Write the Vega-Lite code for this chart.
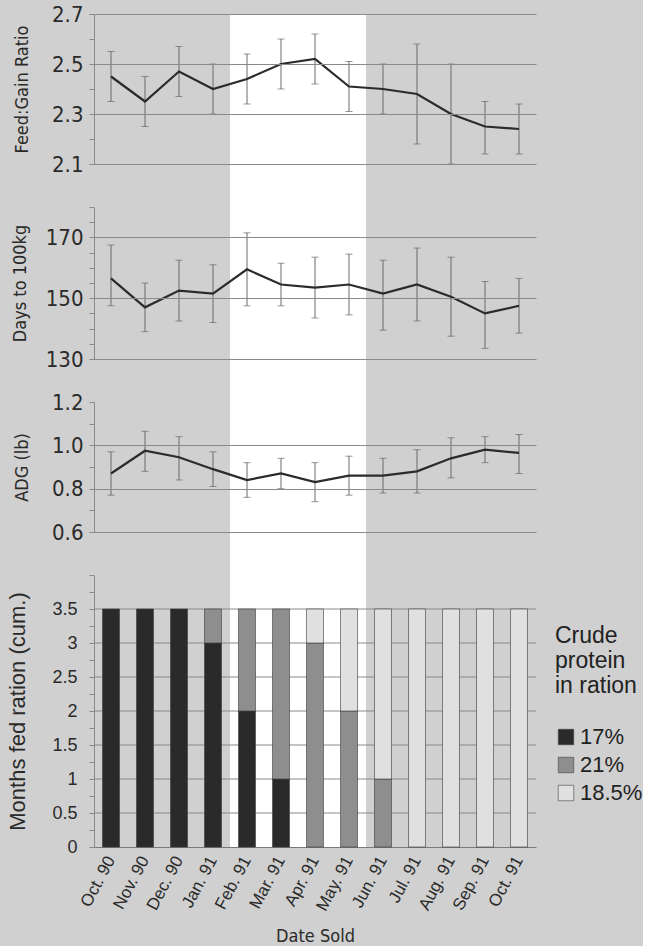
{
  "$schema": "https://vega.github.io/schema/vega-lite/v6.json",
  "background": "#d0d0d0",
  "padding": {"left": 6, "top": 3, "right": 0, "bottom": 0},
  "bounds": "flush",
  "spacing": 43,
  "config": {"view": {"stroke": null}, "axis": {"titleFontWeight": "normal", "labelOverlap": false}},
  "datasets": {
    "highlight": [
      {"month": "Feb. 91"}, {"month": "Mar. 91"}, {"month": "Apr. 91"}, {"month": "May. 91"}
    ],
    "perf": [
      {"month": "Oct. 90", "fg": 2.45, "fgLo": 2.35, "fgHi": 2.55, "days": 156.5, "daysLo": 147.5, "daysHi": 167.5, "adg": 0.87, "adgLo": 0.77, "adgHi": 0.97},
      {"month": "Nov. 90", "fg": 2.35, "fgLo": 2.25, "fgHi": 2.45, "days": 147, "daysLo": 139, "daysHi": 155, "adg": 0.975, "adgLo": 0.88, "adgHi": 1.065},
      {"month": "Dec. 90", "fg": 2.47, "fgLo": 2.37, "fgHi": 2.57, "days": 152.5, "daysLo": 142.5, "daysHi": 162.5, "adg": 0.945, "adgLo": 0.84, "adgHi": 1.04},
      {"month": "Jan. 91", "fg": 2.40, "fgLo": 2.30, "fgHi": 2.50, "days": 151.5, "daysLo": 142, "daysHi": 161, "adg": 0.89, "adgLo": 0.81, "adgHi": 0.97},
      {"month": "Feb. 91", "fg": 2.44, "fgLo": 2.34, "fgHi": 2.54, "days": 159.5, "daysLo": 147.5, "daysHi": 171.5, "adg": 0.84, "adgLo": 0.76, "adgHi": 0.92},
      {"month": "Mar. 91", "fg": 2.50, "fgLo": 2.40, "fgHi": 2.60, "days": 154.5, "daysLo": 147.5, "daysHi": 161.5, "adg": 0.87, "adgLo": 0.80, "adgHi": 0.94},
      {"month": "Apr. 91", "fg": 2.52, "fgLo": 2.42, "fgHi": 2.62, "days": 153.5, "daysLo": 143.5, "daysHi": 163.5, "adg": 0.83, "adgLo": 0.74, "adgHi": 0.92},
      {"month": "May. 91", "fg": 2.41, "fgLo": 2.31, "fgHi": 2.51, "days": 154.5, "daysLo": 144.5, "daysHi": 164.5, "adg": 0.86, "adgLo": 0.77, "adgHi": 0.95},
      {"month": "Jun. 91", "fg": 2.40, "fgLo": 2.30, "fgHi": 2.50, "days": 151.5, "daysLo": 139.5, "daysHi": 162.5, "adg": 0.86, "adgLo": 0.78, "adgHi": 0.94},
      {"month": "Jul. 91", "fg": 2.38, "fgLo": 2.18, "fgHi": 2.58, "days": 154.5, "daysLo": 142.5, "daysHi": 166.5, "adg": 0.88, "adgLo": 0.78, "adgHi": 0.98},
      {"month": "Aug. 91", "fg": 2.30, "fgLo": 2.10, "fgHi": 2.50, "days": 150.5, "daysLo": 137.5, "daysHi": 163.5, "adg": 0.94, "adgLo": 0.85, "adgHi": 1.035},
      {"month": "Sep. 91", "fg": 2.25, "fgLo": 2.14, "fgHi": 2.35, "days": 145, "daysLo": 133.5, "daysHi": 155.5, "adg": 0.98, "adgLo": 0.92, "adgHi": 1.04},
      {"month": "Oct. 91", "fg": 2.24, "fgLo": 2.14, "fgHi": 2.34, "days": 147.5, "daysLo": 138.5, "daysHi": 156.5, "adg": 0.965, "adgLo": 0.87, "adgHi": 1.05}
    ],
    "ration": [
      {"month": "Oct. 90", "protein": "17%", "period": 1, "months": 3.5},
      {"month": "Nov. 90", "protein": "17%", "period": 1, "months": 3.5},
      {"month": "Dec. 90", "protein": "17%", "period": 1, "months": 3.5},
      {"month": "Jan. 91", "protein": "17%", "period": 1, "months": 3.0},
      {"month": "Jan. 91", "protein": "21%", "period": 2, "months": 0.5},
      {"month": "Feb. 91", "protein": "17%", "period": 1, "months": 2.0},
      {"month": "Feb. 91", "protein": "21%", "period": 2, "months": 1.5},
      {"month": "Mar. 91", "protein": "17%", "period": 1, "months": 1.0},
      {"month": "Mar. 91", "protein": "21%", "period": 2, "months": 2.5},
      {"month": "Apr. 91", "protein": "21%", "period": 2, "months": 3.0},
      {"month": "Apr. 91", "protein": "18.5%", "period": 3, "months": 0.5},
      {"month": "May. 91", "protein": "21%", "period": 2, "months": 2.0},
      {"month": "May. 91", "protein": "18.5%", "period": 3, "months": 1.5},
      {"month": "Jun. 91", "protein": "21%", "period": 2, "months": 1.0},
      {"month": "Jun. 91", "protein": "18.5%", "period": 3, "months": 2.5},
      {"month": "Jul. 91", "protein": "18.5%", "period": 3, "months": 3.5},
      {"month": "Aug. 91", "protein": "18.5%", "period": 3, "months": 3.5},
      {"month": "Sep. 91", "protein": "18.5%", "period": 3, "months": 3.5},
      {"month": "Oct. 91", "protein": "18.5%", "period": 3, "months": 3.5}
    ]
  },
  "vconcat": [
    {
      "width": 442, "height": 150,
      "layer": [
        {
          "data": {"name": "highlight"},
          "mark": {"type": "bar", "color": "#ffffff", "width": {"band": 1}},
          "encoding": {
            "x": {"field": "month", "type": "nominal", "sort": null, "scale": {"type": "band", "domain": ["Oct. 90","Nov. 90","Dec. 90","Jan. 91","Feb. 91","Mar. 91","Apr. 91","May. 91","Jun. 91","Jul. 91","Aug. 91","Sep. 91","Oct. 91"], "paddingInner": 0, "paddingOuter": 0}, "axis": null},
            "y": {"datum": 2.7, "type": "quantitative", "title": "Feed:Gain Ratio", "scale": {"domain": [2.1, 2.7], "nice": false, "zero": false},
              "axis": {"values": [2.1, 2.2, 2.3, 2.4, 2.5, 2.6, 2.7], "tickCount": 50, "labelExpr": "round(datum.value*10)%2==1 ? format(datum.value,'.1f') : ''", "labelOverlap": false, "grid": true, "gridColor": {"condition": {"test": "round(datum.value*10)%2==0", "value": "transparent"}, "value": "#8a8a8a"}, "tickSize": 5, "tickColor": "#8a8a8a", "domainColor": "#8a8a8a", "labelFont": "Liberation Sans Narrow, DejaVu Sans Condensed, Roboto, sans-serif", "labelFontSize": 22, "labelColor": "#2a2a2a", "labelPadding": 6, "titleFont": "Liberation Sans Narrow, DejaVu Sans Condensed, Roboto, sans-serif", "titleFontSize": 18, "titleColor": "#2a2a2a", "titlePadding": 20, "zindex": 1}},
            "y2": {"datum": 1.928}
          }
        },
        {
          "data": {"name": "perf"},
          "mark": {"type": "errorbar", "color": "#6a6a6a", "thickness": 1, "ticks": {"size": 7}},
          "encoding": {
            "x": {"field": "month", "type": "nominal", "sort": null},
            "y": {"field": "fgLo", "type": "quantitative", "title": "Feed:Gain Ratio"},
            "y2": {"field": "fgHi"}
          }
        },
        {
          "data": {"name": "perf"},
          "mark": {"type": "line", "color": "#2b2b2b", "strokeWidth": 2.2},
          "encoding": {
            "x": {"field": "month", "type": "nominal", "sort": null},
            "y": {"field": "fg", "type": "quantitative", "title": "Feed:Gain Ratio", "scale": {"domain": [2.1, 2.7], "nice": false, "zero": false}}
          }
        }
      ]
    },
    {
      "width": 442, "height": 152,
      "layer": [
        {
          "data": {"name": "highlight"},
          "mark": {"type": "bar", "color": "#ffffff", "width": {"band": 1}},
          "encoding": {
            "x": {"field": "month", "type": "nominal", "sort": null, "scale": {"type": "band", "domain": ["Oct. 90","Nov. 90","Dec. 90","Jan. 91","Feb. 91","Mar. 91","Apr. 91","May. 91","Jun. 91","Jul. 91","Aug. 91","Sep. 91","Oct. 91"], "paddingInner": 0, "paddingOuter": 0}, "axis": null},
            "y": {"datum": 180, "type": "quantitative", "title": "Days to 100kg", "scale": {"domain": [130, 180], "nice": false, "zero": false},
              "axis": {"values": [130, 135, 140, 145, 150, 155, 160, 165, 170, 175, 180], "tickCount": 50, "labelExpr": "datum.value%20==10 ? format(datum.value,'d') : ''", "labelOverlap": false, "grid": true, "gridColor": {"condition": {"test": "datum.value%20!=10", "value": "transparent"}, "value": "#8a8a8a"}, "tickSize": 5, "tickColor": "#8a8a8a", "domainColor": "#8a8a8a", "labelFont": "Liberation Sans Narrow, DejaVu Sans Condensed, Roboto, sans-serif", "labelFontSize": 22, "labelColor": "#2a2a2a", "labelPadding": 6, "titleFont": "Liberation Sans Narrow, DejaVu Sans Condensed, Roboto, sans-serif", "titleFontSize": 18, "titleColor": "#2a2a2a", "titlePadding": 16, "zindex": 1}},
            "y2": {"datum": 115.8}
          }
        },
        {
          "data": {"name": "perf"},
          "mark": {"type": "errorbar", "color": "#6a6a6a", "thickness": 1, "ticks": {"size": 7}},
          "encoding": {
            "x": {"field": "month", "type": "nominal", "sort": null},
            "y": {"field": "daysLo", "type": "quantitative", "title": "Days to 100kg"},
            "y2": {"field": "daysHi"}
          }
        },
        {
          "data": {"name": "perf"},
          "mark": {"type": "line", "color": "#2b2b2b", "strokeWidth": 2.2},
          "encoding": {
            "x": {"field": "month", "type": "nominal", "sort": null},
            "y": {"field": "days", "type": "quantitative", "title": "Days to 100kg", "scale": {"domain": [130, 180], "nice": false, "zero": false}}
          }
        }
      ]
    },
    {
      "width": 442, "height": 130,
      "layer": [
        {
          "data": {"name": "highlight"},
          "mark": {"type": "bar", "color": "#ffffff", "width": {"band": 1}},
          "encoding": {
            "x": {"field": "month", "type": "nominal", "sort": null, "scale": {"type": "band", "domain": ["Oct. 90","Nov. 90","Dec. 90","Jan. 91","Feb. 91","Mar. 91","Apr. 91","May. 91","Jun. 91","Jul. 91","Aug. 91","Sep. 91","Oct. 91"], "paddingInner": 0, "paddingOuter": 0}, "axis": null},
            "y": {"datum": 1.2, "type": "quantitative", "title": "ADG (lb)", "scale": {"domain": [0.6, 1.2], "nice": false, "zero": false},
              "axis": {"values": [0.6, 0.7, 0.8, 0.9, 1.0, 1.1, 1.2], "tickCount": 50, "labelExpr": "round(datum.value*10)%2==0 ? format(datum.value,'.1f') : ''", "labelOverlap": false, "grid": true, "gridColor": {"condition": {"test": "round(datum.value*10)%2==1 || datum.value > 1.15", "value": "transparent"}, "value": "#8a8a8a"}, "tickSize": 5, "tickColor": "#8a8a8a", "domainColor": "#8a8a8a", "labelFont": "Liberation Sans Narrow, DejaVu Sans Condensed, Roboto, sans-serif", "labelFontSize": 22, "labelColor": "#2a2a2a", "labelPadding": 6, "titleFont": "Liberation Sans Narrow, DejaVu Sans Condensed, Roboto, sans-serif", "titleFontSize": 18, "titleColor": "#2a2a2a", "titlePadding": 20, "zindex": 1}},
            "y2": {"datum": 0.402}
          }
        },
        {
          "data": {"name": "perf"},
          "mark": {"type": "errorbar", "color": "#6a6a6a", "thickness": 1, "ticks": {"size": 7}},
          "encoding": {
            "x": {"field": "month", "type": "nominal", "sort": null},
            "y": {"field": "adgLo", "type": "quantitative", "title": "ADG (lb)"},
            "y2": {"field": "adgHi"}
          }
        },
        {
          "data": {"name": "perf"},
          "mark": {"type": "line", "color": "#2b2b2b", "strokeWidth": 2.2},
          "encoding": {
            "x": {"field": "month", "type": "nominal", "sort": null},
            "y": {"field": "adg", "type": "quantitative", "title": "ADG (lb)", "scale": {"domain": [0.6, 1.2], "nice": false, "zero": false}}
          }
        }
      ]
    },
    {
      "width": 442, "height": 272,
      "layer": [
        {
          "data": {"name": "highlight"},
          "mark": {"type": "bar", "color": "#ffffff", "width": {"band": 1}},
          "encoding": {
            "x": {"field": "month", "type": "nominal", "sort": null, "title": "Date Sold", "scale": {"type": "band", "domain": ["Oct. 90","Nov. 90","Dec. 90","Jan. 91","Feb. 91","Mar. 91","Apr. 91","May. 91","Jun. 91","Jul. 91","Aug. 91","Sep. 91","Oct. 91"], "paddingInner": 0, "paddingOuter": 0},
              "axis": {"labelAngle": -62, "labelAlign": "right", "labelBaseline": "middle", "labelFont": "Liberation Sans, Arial, sans-serif", "labelFontSize": 17, "labelColor": "#2a2a2a", "labelPadding": 10, "ticks": false, "domainColor": "#7a7a7a", "titleFont": "Liberation Sans Narrow, DejaVu Sans Condensed, Roboto, sans-serif", "titleFontSize": 18, "titleColor": "#2a2a2a", "titlePadding": 14}},
            "y": {"datum": 4, "type": "quantitative", "title": "Months fed ration (cum.)", "scale": {"domain": [0, 4], "nice": false, "zero": true},
              "axis": {"values": [0, 0.25, 0.5, 0.75, 1, 1.25, 1.5, 1.75, 2, 2.25, 2.5, 2.75, 3, 3.25, 3.5, 3.75, 4], "tickCount": 50, "labelExpr": "datum.value <= 3.5 && round(datum.value*4)%2==0 ? toString(datum.value) : ''", "labelOverlap": false, "grid": false, "tickSize": 5, "tickColor": "#8a8a8a", "domainColor": "#8a8a8a", "labelFont": "Liberation Sans, Arial, sans-serif", "labelFontSize": 18, "labelColor": "#2a2a2a", "labelPadding": 12, "titleFont": "Liberation Sans, Arial, sans-serif", "titleFontSize": 22, "titleColor": "#2a2a2a", "titlePadding": 22}},
            "y2": {"datum": 0}
          }
        },
        {
          "data": {"values": [{"level": 0.5}, {"level": 1}, {"level": 1.5}, {"level": 2}, {"level": 2.5}, {"level": 3}, {"level": 3.5}]},
          "mark": {"type": "rule", "color": "#8a8a8a", "strokeWidth": 1},
          "encoding": {
            "y": {"field": "level", "type": "quantitative", "title": "Months fed ration (cum.)"}
          }
        },
        {
          "data": {"name": "ration"},
          "mark": {"type": "bar", "width": {"band": 0.5}, "stroke": "#3a3a3a", "strokeWidth": 0.6},
          "encoding": {
            "x": {"field": "month", "type": "nominal", "sort": null, "title": "Date Sold"},
            "y": {"field": "months", "type": "quantitative", "stack": "zero", "title": "Months fed ration (cum.)"},
            "order": {"field": "period", "sort": "ascending"},
            "color": {"field": "protein", "type": "nominal", "sort": ["17%", "21%", "18.5%"],
              "scale": {"domain": ["17%", "21%", "18.5%"], "range": ["#2a2a2a", "#8e8e8e", "#e0e0e0"]},
              "legend": {"title": ["Crude", "protein", "in ration"], "orient": "none", "legendX": 461, "legendY": 611, "titleFont": "Liberation Sans, Arial, sans-serif", "titleFontSize": 23, "titleFontWeight": "normal", "titleLineHeight": 25, "titleColor": "#222222", "titlePadding": 28, "labelFont": "Liberation Sans, Arial, sans-serif", "labelFontSize": 22, "labelColor": "#222222", "labelOffset": 3, "symbolType": "square", "symbolSize": 240, "symbolStrokeColor": "#444444", "symbolStrokeWidth": 0.6, "rowPadding": 6}}
          }
        }
      ]
    }
  ]
}
